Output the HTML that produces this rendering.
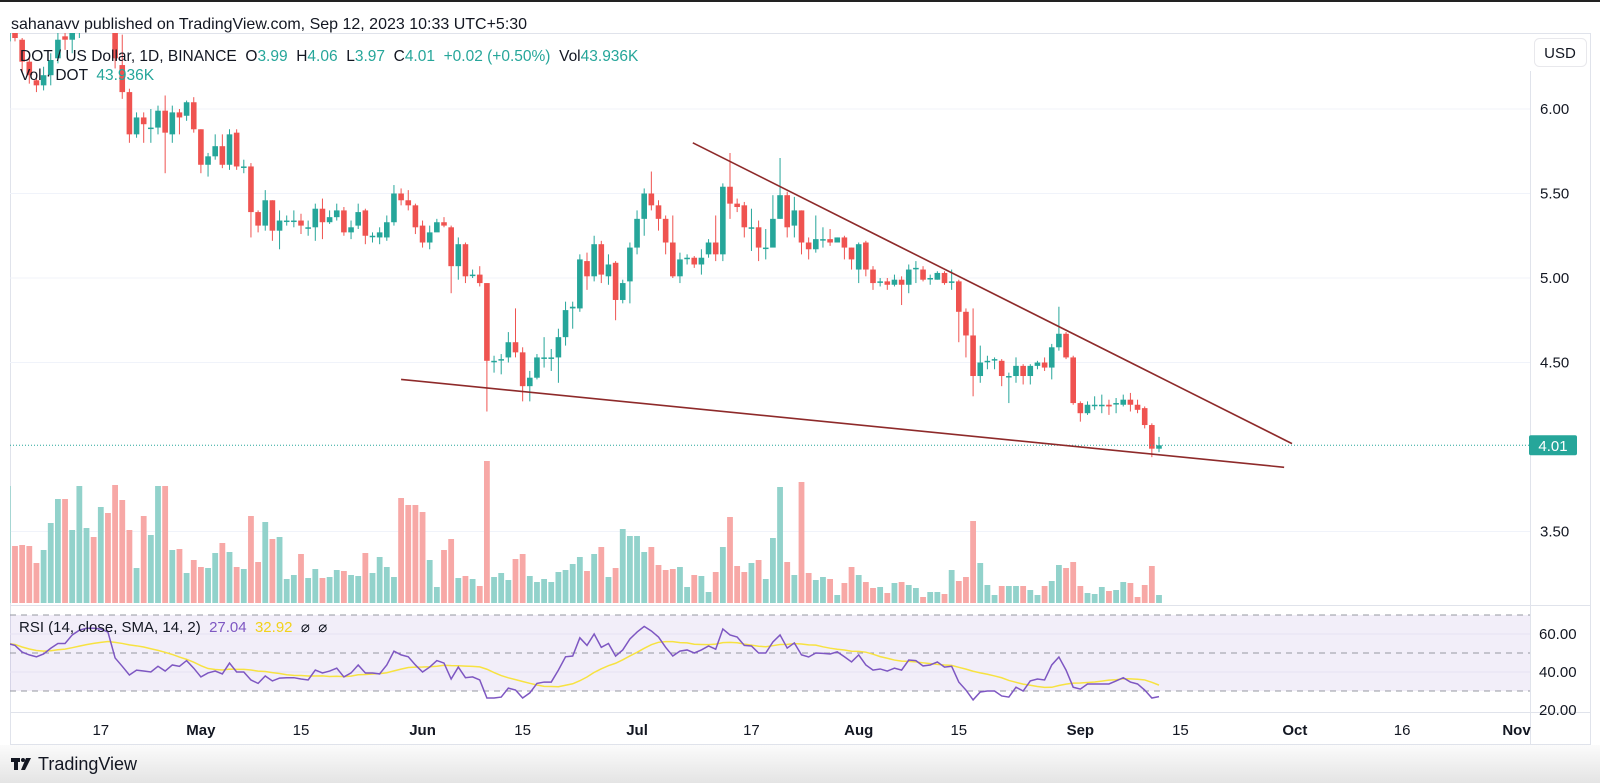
<!DOCTYPE html>
<html><head><meta charset="utf-8"><title>DOT/USD Chart</title>
<style>
html,body{margin:0;padding:0;background:#fff;}
body{width:1600px;height:783px;overflow:hidden;position:relative;font-family:"Liberation Sans",Arial,sans-serif;}
svg{position:absolute;left:0;top:0;}
svg text{font-family:"Liberation Sans",Arial,sans-serif;white-space:pre;}
</style></head>
<body>
<svg id="chart" width="1600" height="783" viewBox="0 0 1600 783">
<defs>
<linearGradient id="foot" x1="0" y1="0" x2="0" y2="1"><stop offset="0" stop-color="#fbfbfb"/><stop offset="1" stop-color="#e4e4e4"/></linearGradient>
<clipPath id="mainClip"><rect x="10" y="33" width="1520" height="571"/></clipPath>
<clipPath id="rsiClip"><rect x="10" y="606" width="1520" height="105"/></clipPath>
</defs>
<rect x="0" y="0" width="1600" height="2" fill="#222"/>
<rect x="0" y="745" width="1600" height="38" fill="url(#foot)"/>
<text x="11" y="29" font-size="16" fill="#131722">sahanavv published on TradingView.com, Sep 12, 2023 10:33 UTC+5:30</text>
<g>
<rect x="10.5" y="33.5" width="1580" height="711" fill="none" stroke="#e0e3eb"/>
<line x1="1530.5" y1="71" x2="1530.5" y2="745" stroke="#e0e3eb"/>
<line x1="10" y1="605.5" x2="1591" y2="605.5" stroke="#e0e3eb"/>
<line x1="10" y1="712.5" x2="1591" y2="712.5" stroke="#e0e3eb"/>
</g>
<g id="grid"></g>
<g id="rsiBg"></g>
<g id="vol" clip-path="url(#mainClip)"></g>
<g id="candles" clip-path="url(#mainClip)"></g>
<g id="lines" clip-path="url(#mainClip)"></g>
<g id="rsi" clip-path="url(#rsiClip)"></g>
<g id="axes"></g>
<g>
<rect x="1534.5" y="38.5" width="52" height="28" rx="5" fill="#fff" stroke="#e8e8ec"/>
<text x="1560" y="58" font-size="15" fill="#131722" text-anchor="middle">USD</text>
</g>
<text x="20" y="61" font-size="15.5" fill="#131722">DOT / US Dollar, 1D, BINANCE  O<tspan fill="#26a69a">3.99</tspan>  H<tspan fill="#26a69a">4.06</tspan>  L<tspan fill="#26a69a">3.97</tspan>  C<tspan fill="#26a69a">4.01</tspan>  <tspan fill="#26a69a">+0.02 (+0.50%)</tspan>  Vol<tspan fill="#26a69a">43.936K</tspan></text>
<text x="20" y="80" font-size="15.5" fill="#131722">Vol · DOT  <tspan fill="#26a69a">43.936K</tspan></text>
<text x="19" y="632" font-size="15" fill="#131722">RSI (14, close, SMA, 14, 2)  <tspan fill="#7e57c2">27.04</tspan>  <tspan fill="#f2d21b">32.92</tspan>  ⌀  ⌀</text>
<g>
<rect x="11" y="758" width="9" height="4" fill="#131722"/>
<rect x="14" y="758" width="4" height="12" fill="#131722"/>
<circle cx="23" cy="760" r="2" fill="#131722"/>
<polygon points="26,758 31,758 25,770 21,770" fill="#131722"/>
<text x="38" y="770" font-size="18" fill="#131722">TradingView</text>
</g>
</svg>
<script>
const O=[6.40,6.45,6.41,6.28,6.17,6.14,6.20,6.30,6.43,6.41,6.45,6.52,6.60,6.56,6.63,6.55,6.26,6.10,5.85,5.95,5.89,5.89,5.99,5.85,5.98,5.96,6.04,5.88,5.67,5.72,5.78,5.67,5.86,5.66,5.66,5.39,5.31,5.46,5.28,5.34,
5.34,5.34,5.30,5.30,5.41,5.33,5.36,5.40,5.27,5.31,5.40,5.25,5.24,5.24,5.33,5.50,5.46,5.43,5.31,5.21,5.27,5.33,5.30,5.07,5.20,5.02,5.02,4.97,4.51,4.52,4.53,4.62,4.56,4.36,4.41,4.53,4.53,4.53,4.65,
4.82,4.82,5.10,5.01,5.20,5.01,5.09,4.87,4.98,5.18,5.35,5.50,5.43,5.35,5.21,5.01,5.12,5.12,5.08,5.14,5.21,5.14,5.54,5.44,5.43,5.30,5.30,5.18,5.18,5.35,5.49,5.31,5.40,5.21,5.17,5.23,5.23,5.21,5.24,5.18,
5.05,5.21,5.05,4.98,4.98,4.96,4.99,4.96,5.06,5.05,5.00,4.99,5.03,4.98,4.98,4.80,4.66,4.42,4.51,4.52,4.51,4.42,4.42,4.48,4.42,4.48,4.50,4.47,4.59,4.67,4.53,4.26,4.20,4.25,4.25,4.25,4.26,4.25,4.28,4.25,
4.23,4.13,3.99];
const H=[6.50,6.47,6.42,6.30,6.20,6.25,6.33,6.45,6.48,6.50,6.56,6.64,6.63,6.68,6.66,6.60,6.44,6.12,5.98,5.98,6.00,6.02,6.08,6.02,6.00,6.05,6.07,5.88,5.74,5.85,5.85,5.88,5.88,5.70,5.68,5.40,5.52,5.46,5.40,5.37,
5.40,5.38,5.34,5.44,5.47,5.40,5.44,5.42,5.34,5.44,5.41,5.27,5.30,5.37,5.55,5.53,5.52,5.44,5.34,5.31,5.35,5.36,5.31,5.24,5.21,5.05,5.07,4.97,4.54,4.55,4.68,4.82,4.59,4.45,4.55,4.65,4.58,4.70,4.86,
4.86,5.14,5.15,5.25,5.22,5.14,5.10,4.99,5.21,5.40,5.53,5.63,5.46,5.37,5.37,5.15,5.14,5.13,5.17,5.23,5.37,5.56,5.74,5.47,5.45,5.41,5.34,5.29,5.49,5.71,5.51,5.48,5.40,5.24,5.37,5.30,5.29,5.24,5.25,5.18,
5.21,5.22,5.07,5.00,5.00,5.02,5.01,5.08,5.10,5.07,5.02,5.04,5.04,5.05,4.99,4.82,4.82,4.60,4.54,4.53,4.52,4.44,4.53,4.49,4.49,4.51,4.53,4.61,4.83,4.68,4.54,4.27,4.27,4.30,4.31,4.28,4.29,4.31,4.32,4.28,
4.24,4.14,4.06];
const L=[6.38,6.40,6.22,6.15,6.10,6.11,6.14,6.27,6.35,6.33,6.42,6.50,6.50,6.54,6.50,6.24,6.06,5.80,5.83,5.80,5.80,5.85,5.62,5.80,5.85,5.93,5.86,5.62,5.60,5.70,5.65,5.64,5.64,5.62,5.24,5.27,5.28,5.22,5.17,5.31,
5.30,5.26,5.25,5.22,5.23,5.32,5.34,5.25,5.23,5.29,5.20,5.21,5.20,5.22,5.31,5.43,5.40,5.26,5.18,5.17,5.30,5.30,4.91,4.99,4.97,5.00,4.95,4.21,4.44,4.43,4.50,4.53,4.27,4.27,4.40,4.47,4.45,4.38,4.60,
4.70,4.80,4.93,4.98,4.97,4.96,4.75,4.85,4.85,5.14,5.25,5.40,5.28,5.14,5.00,4.97,5.08,5.06,5.02,5.12,5.10,5.10,5.35,5.39,5.24,5.16,5.10,5.11,5.19,5.35,5.24,5.24,5.14,5.11,5.15,5.18,5.19,5.22,5.11,5.05,
4.97,5.01,4.93,4.95,4.93,4.95,4.84,4.91,4.97,4.98,4.96,4.99,4.96,4.93,4.62,4.53,4.30,4.38,4.46,4.46,4.36,4.26,4.38,4.37,4.37,4.46,4.45,4.40,4.57,4.52,4.25,4.15,4.19,4.22,4.20,4.19,4.20,4.24,4.21,4.20,
4.11,3.94,3.97];
const C=[6.46,6.42,6.28,6.20,6.14,6.20,6.29,6.41,6.41,6.45,6.52,6.60,6.56,6.63,6.55,6.30,6.10,5.85,5.95,5.91,5.89,5.99,5.86,5.98,5.95,6.04,5.88,5.67,5.72,5.78,5.67,5.85,5.66,5.66,5.39,5.31,5.46,5.28,5.34,5.34,
5.34,5.31,5.30,5.41,5.33,5.36,5.40,5.27,5.30,5.39,5.25,5.25,5.27,5.33,5.50,5.46,5.43,5.30,5.21,5.27,5.33,5.31,5.07,5.20,5.01,5.02,4.97,4.51,4.51,4.52,4.62,4.56,4.36,4.41,4.53,4.53,4.53,4.65,4.81,
4.83,5.11,5.01,5.20,5.02,5.08,4.87,4.97,5.18,5.35,5.50,5.43,5.35,5.21,5.01,5.11,5.12,5.08,5.12,5.21,5.14,5.54,5.44,5.42,5.30,5.30,5.18,5.18,5.35,5.49,5.30,5.40,5.21,5.17,5.23,5.23,5.21,5.24,5.18,5.11,
5.20,5.05,4.97,4.98,4.96,4.99,4.96,5.05,5.06,4.99,5.00,5.03,4.97,4.98,4.80,4.66,4.42,4.50,4.51,4.52,4.42,4.42,4.48,4.42,4.48,4.50,4.47,4.59,4.67,4.53,4.26,4.20,4.25,4.25,4.25,4.24,4.26,4.28,4.25,4.22,
4.13,3.99,4.01];
const VOL=[117,57,58,57,40,53,80,104,104,73,117,75,66,96,90,118,103,73,35,87,68,117,117,53,54,30,43,36,35,50,60,51,36,34,87,41,81,64,66,24,
28,49,25,34,25,26,33,32,28,27,50,30,46,36,26,105,98,98,91,43,16,53,64,25,27,24,17,142,26,30,23,44,49,27,21,24,21,31,33,39,46,
32,49,56,26,35,74,67,67,51,56,38,33,34,36,16,28,27,11,31,56,86,37,31,40,43,24,65,116,41,28,121,30,23,26,24,8,20,36,28,21,
15,16,10,20,21,18,15,6,11,11,9,33,22,26,82,40,18,8,17,17,17,17,13,8,17,22,38,35,41,17,10,9,16,12,13,21,20,6,18,37,8];
const RSI=[55,54,50.5,49,48,49.5,52.5,55,55,59.5,62,63,63,62.6,61,47.4,43,38.4,41,40.5,40,43,40.5,43.7,43,46,42,37.4,39.5,40.5,39,44.7,40,40,35.8,34,37.9,35.3,36.8,37,
37,36.3,35.8,41,39.5,40.5,42,37.4,39.5,43.7,39.5,39.5,39,43.7,51,49,48,43.7,40,42.6,46,44.7,36.3,42.6,37,37.4,35.8,26.3,26.3,26.8,31.5,30.5,26.3,29,34,34.7,34.7,41,48,48.4,58,
54,60,53,55,48.4,51.6,57.4,61,64,61.6,58.4,53,48.4,51,51.6,50,51.6,53.7,52,62.6,59.5,58.4,54,53.7,50,50,55.8,59.5,52.6,55.3,49,47.9,50,49.8,49.5,50.6,48,45.3,49,43.7,
41,41.6,40.5,42,41,46.3,46,43.2,43.7,45.3,42.6,43,34.7,30.5,25.3,29.5,30,30,27.4,26.8,32,30,35.3,36.3,35.8,43.7,47.9,41,32,31,33.7,33.7,33.7,33.7,35.3,37,34.7,33.7,30.5,26.3,27.04];
const startDate='2023-04-04';
const tickDates=['2023-04-17','2023-05-01','2023-05-15','2023-06-01','2023-06-15','2023-07-01','2023-07-17','2023-08-01','2023-08-15','2023-09-01','2023-09-15','2023-10-01','2023-10-16','2023-11-01'];
const tickLabels=['17','May','15','Jun','15','Jul','17','Aug','15','Sep','15','Oct','16','Nov'];
const priceTicks=[6.0,5.5,5.0,4.5,3.5];
const priceTickLabels=['6.00','5.50','5.00','4.50','3.50'];
const rsiTicks=[60,40,20];
const rsiTickLabels=['60.00','40.00','20.00'];
const lastPrice=4.01;
const upperTrend={i:[95.8,179.6],p:[5.80,4.02]};
const lowerTrend={i:[55.0,178.5],p:[4.40,3.88]};

const NS='http://www.w3.org/2000/svg';
function xOf(i){return 7.85+7.15*i;}
function yP(p){return 109+(6-p)*169;}
function yV(v){return 603-v;}
function yR(r){return 653-(r-50)*1.9;}
function dayIndex(d){return Math.round((Date.parse(d)-Date.parse(startDate))/86400000);}
function mk(tag,attrs,parent){const e=document.createElementNS(NS,tag);for(const k in attrs)e.setAttribute(k,attrs[k]);parent.appendChild(e);return e;}
const G=id=>document.getElementById(id);

priceTicks.forEach((p,k)=>{
  const ln=mk('line',{x1:10,x2:1530,y1:yP(p),y2:yP(p),stroke:'#f0f3fa','stroke-width':1},G('grid'));
  
  
  const t=mk('text',{x:1540,y:yP(p)+5,'font-size':15,fill:'#131722'},G('axes'));
  t.textContent=priceTickLabels[k];
  
  
});
const band=mk('rect',{x:10,y:yR(70),width:1520,height:yR(30)-yR(70),fill:'rgba(126,87,194,0.1)'},G('rsiBg'));


[70,50,30].forEach(v=>{
  const d=mk('line',{x1:10,x2:1530,y1:yR(v),y2:yR(v),stroke:'#9598a1','stroke-width':1,'stroke-dasharray':'6,5'},G('rsiBg'));
  
  
});
rsiTicks.forEach((v,k)=>{
  if(v!==20){const g=mk('line',{x1:10,x2:1530,y1:yR(v),y2:yR(v),stroke:'#e6e1f2','stroke-width':1},G('rsiBg'));
  
  }
  const t=mk('text',{x:1539,y:yR(v)+5,'font-size':15,fill:'#131722'},G('axes'));
  t.textContent=rsiTickLabels[k];
  
  
});
tickDates.forEach((d,k)=>{
  const bold=isNaN(parseInt(tickLabels[k]));
  const t=mk('text',{x:xOf(dayIndex(d)),y:735,'font-size':15,fill:'#131722','text-anchor':'middle','font-weight':bold?'bold':'normal'},G('axes'));
  t.textContent=tickLabels[k];
  
  
});
VOL.forEach((v,i)=>{
  const up=C[i]>=O[i];
  const r=mk('rect',{x:xOf(i)-2.9,y:yV(v),width:5.8,height:v,fill:up?'#92d2cb':'#f7a8a6'},G('vol'));
  
  
});
C.forEach((c,i)=>{
  const up=c>=O[i], col=up?'#26a69a':'#ef5350';
  const g=mk('g',{},G('candles'));
  
  
  mk('line',{x1:xOf(i),x2:xOf(i),y1:yP(H[i]),y2:yP(L[i]),stroke:col,'stroke-width':1},g);
  const top=yP(Math.max(O[i],c)),bot=yP(Math.min(O[i],c));
  mk('rect',{x:xOf(i)-2.8,y:top,width:5.6,height:Math.max(1.5,bot-top),fill:col},g);
});
const pl=mk('line',{x1:10,x2:1530,y1:yP(lastPrice),y2:yP(lastPrice),stroke:'#26a69a','stroke-width':1,'stroke-dasharray':'1,2'},G('lines'));


const lb=mk('rect',{x:1529,y:yP(lastPrice)-10,width:48,height:20,rx:2,fill:'#26a69a'},G('axes'));


const lt=mk('text',{x:1553,y:yP(lastPrice)+5.5,'font-size':15,fill:'#fff','text-anchor':'middle'},G('axes'));
lt.textContent=lastPrice.toFixed(2);


[[upperTrend,'upper-trendline'],[lowerTrend,'lower-trendline']].forEach(([t,n])=>{
  const l=mk('line',{x1:xOf(t.i[0]),y1:yP(t.p[0]),x2:xOf(t.i[1]),y2:yP(t.p[1]),stroke:'#8e2a2a','stroke-width':1.6},G('lines'));
  
  
});
const SMA=RSI.map((v,i)=>{const s=RSI.slice(Math.max(0,i-13),i+1);return s.reduce((a,b)=>a+b,0)/s.length;});
const sp=mk('polyline',{points:SMA.map((v,i)=>xOf(i)+','+yR(v)).join(' '),fill:'none',stroke:'#f7e241','stroke-width':1.5},G('rsi'));


const rp=mk('polyline',{points:RSI.map((v,i)=>xOf(i)+','+yR(v)).join(' '),fill:'none',stroke:'#7e57c2','stroke-width':1.5},G('rsi'));


</script>
</body></html>
